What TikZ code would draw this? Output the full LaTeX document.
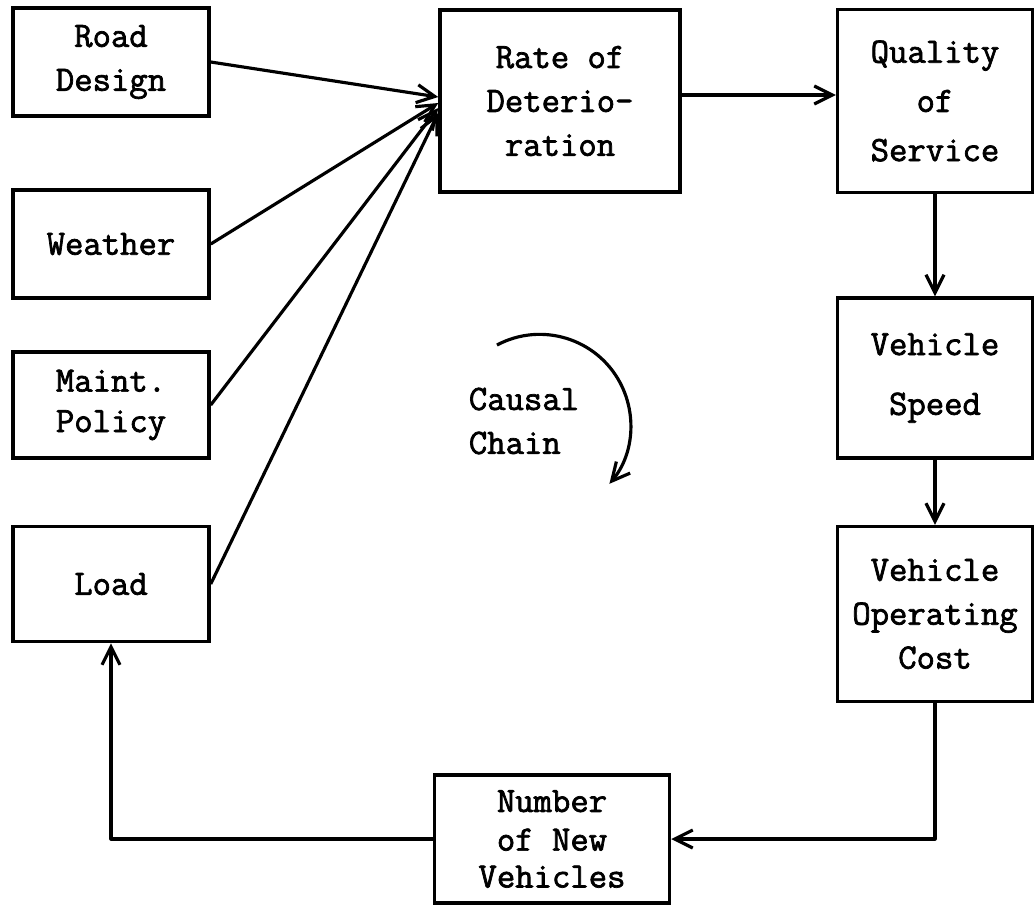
\documentclass[tikz,border=0pt]{standalone}
\usepackage{fontspec}
\setmainfont{Latin Modern Mono}[FakeBold=2]
\usetikzlibrary{arrows.meta}

\newcommand{\typew}{\fontsize{20.3}{25}\selectfont}

\begin{document}
\begin{tikzpicture}[
  x=0.02cm, y=0.02cm,
  box/.style={draw, line width=2pt, align=center, font=\typew, inner sep=2pt},
  leftbox/.style={box, minimum width=3.92cm, minimum height=2.16cm},
  rightbox/.style={box, minimum width=3.9cm},
  link/.style={-{Straight Barb[length=3.6mm, width=3.6mm]}, line width=1.8pt, line join=round}
]
\useasboundingbox (0,0) rectangle (1036,-907);

% Factors (left column)
\node[leftbox] (road) at (111,-62) {Road\\Design};
\node[leftbox] (weather) at (111,-244) {Weather};
\node[leftbox, minimum height=2.12cm] (maint) at (111,-405) {Maint.\\[-2pt]Policy};
\node[leftbox, minimum height=2.3cm] (load) at (111,-584) {Load};

% Chain (top, right side, bottom)
\node[box, minimum width=4.8cm, minimum height=3.64cm] (rate) at (560,-101) {Rate of\\Deterio-\\ration};
\node[rightbox, minimum height=3.66cm] (quality) at (935,-101) {Quality\\[3pt]of\\[3pt]Service};
\node[rightbox, minimum height=3.2cm] (speed) at (935,-378) {Vehicle\\[9pt]Speed};
\node[rightbox, minimum height=3.5cm] (voc) at (935,-614) {Vehicle\\Operating\\Cost};
\node[box, minimum width=4.7cm, minimum height=2.56cm] (newveh) at (552,-839) {Number\\[-3pt]of New\\[-4pt]Vehicles};

% Middle label with turning arrow
\node[font=\typew, align=left] (causal) at (524,-421) {Causal\\Chain};
\coordinate (turn) at (497,-345);
\draw[link] (turn) arc[start angle=118, end angle=-40, radius=1.82cm];

% Factors into the rate of deterioration
\coordinate (in1) at ([yshift=0.08cm]rate.west);
\coordinate (in2) at ([yshift=-0.04cm]rate.west);
\coordinate (in3) at ([yshift=-0.14cm]rate.west);
\coordinate (in4) at ([yshift=-0.24cm]rate.west);
\draw[link] (road.east) -- (in1);
\draw[link] (weather.east) -- (in2);
\draw[link] (maint.east) -- (in3);
\draw[link] (load.east) -- (in4);

% Chain arrows
\draw[link] ([yshift=0.12cm]rate.east) -- ([yshift=0.12cm]quality.west);
\draw[link] (quality.south) -- (speed.north);
\draw[link] (speed.south) -- (voc.north);
\draw[link] (voc.south) |- (newveh.east);
\draw[link] (newveh.west) -| (load.south);

\end{tikzpicture}
\end{document}
